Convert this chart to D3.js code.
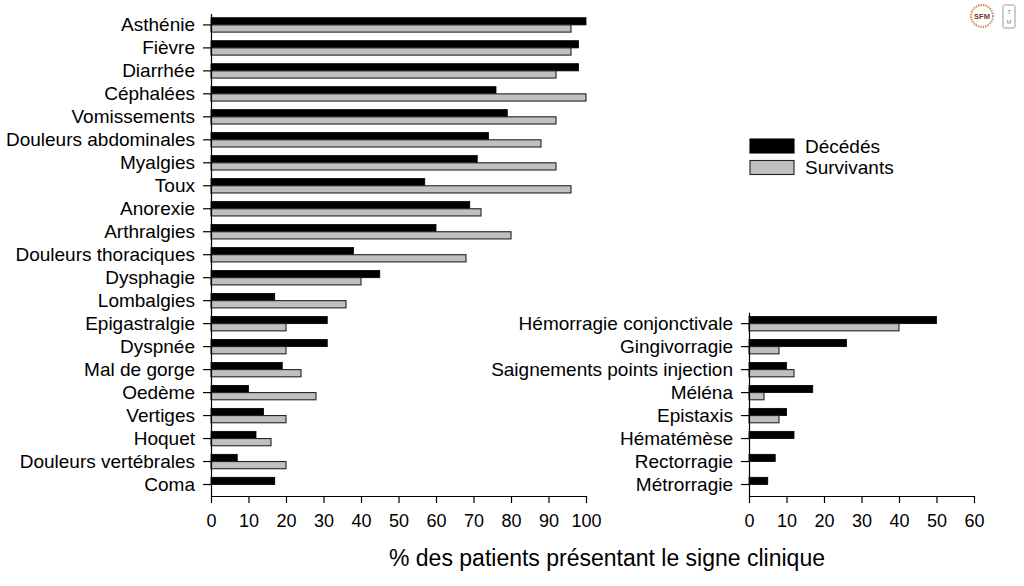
<!DOCTYPE html>
<html><head><meta charset="utf-8">
<script src="https://cdn.jsdelivr.net/npm/d3@7"></script>
<style>
html,body{margin:0;padding:0;background:#fff;}
svg{display:block;font-family:"Liberation Sans",Arial,sans-serif;}
</style></head>
<body>
<svg id="c" width="1024" height="586"></svg>
<script>
const leftCategories = ["Asthénie","Fièvre","Diarrhée","Céphalées","Vomissements","Douleurs abdominales","Myalgies","Toux","Anorexie","Arthralgies","Douleurs thoraciques","Dysphagie","Lombalgies","Epigastralgie","Dyspnée","Mal de gorge","Oedème","Vertiges","Hoquet","Douleurs vertébrales","Coma"];
const leftDeceased = [100,98,98,76,79,74,71,57,69,60,38,45,17,31,31,19,10,14,12,7,17];
const leftSurvivors = [96,96,92,100,92,88,92,96,72,80,68,40,36,20,20,24,28,20,16,20,0];

const rightCategories = ["Hémorragie conjonctivale","Gingivorragie","Saignements points injection","Méléna","Epistaxis","Hématémèse","Rectorragie","Métrorragie"];
const rightDeceased = [50,26,10,17,10,12,7,5];
const rightSurvivors = [40,8,12,4,8,0,0,0];

const leftTicks = [0,10,20,30,40,50,60,70,80,90,100];
const rightTicks = [0,10,20,30,40,50,60];
const seriesNames = ["Décédés","Survivants"];
const xTitle = "% des patients présentant le signe clinique";

const svg = d3.select("#c");
const colors = ["#000000","#c0c0c0"];
const baseY = 496;
const step = 22.98;
const barH = 7.2;
const FONT = '"Liberation Sans",Arial,sans-serif';

function panel(cats, dec, surv, ticks, x0, x1, tickLen, pad) {
  const g = svg.append("g");
  const x = d3.scaleLinear().domain([ticks[0], ticks[ticks.length-1]]).range([x0, x1]);
  const y = d3.scaleBand().domain(cats).range([baseY - cats.length*step, baseY]).padding(0);
  const c = d => y(d) + y.bandwidth()/2;

  const rows = cats.map((k,i)=>({k, d:dec[i], s:surv[i]}));
  g.selectAll(".bd").data(rows).join("rect")
    .attr("x", x(0)).attr("y", r => c(r.k) - barH)
    .attr("width", r => Math.max(0, x(r.d)-x(0))).attr("height", barH)
    .attr("fill", colors[0]).attr("stroke","#000").attr("stroke-width",0.8);
  g.selectAll(".bs").data(rows.filter(r=>r.s>0)).join("rect")
    .attr("x", x(0)).attr("y", r => c(r.k))
    .attr("width", r => x(r.s)-x(0)).attr("height", barH)
    .attr("fill", colors[1]).attr("stroke","#222").attr("stroke-width",1.1);

  const ya = g.append("g").attr("transform",`translate(${x0},0)`)
    .call(d3.axisLeft(y).tickSize(tickLen).tickPadding(pad).tickSizeOuter(0));
  ya.select(".domain").attr("stroke","#000").attr("stroke-width",1.2);
  ya.selectAll(".tick line").attr("stroke","#000").attr("stroke-width",1.2);
  ya.selectAll("text").attr("font-size",19).attr("fill","#000").style("font-family",FONT);

  const xa = g.append("g").attr("transform",`translate(0,${baseY})`)
    .call(d3.axisBottom(x).tickValues(ticks).tickSize(7).tickPadding(11).tickSizeOuter(0).tickFormat(d3.format("d")));
  xa.select(".domain").attr("stroke","#000").attr("stroke-width",1.2);
  xa.selectAll(".tick line").attr("stroke","#000").attr("stroke-width",1.2);
  xa.selectAll("text").attr("font-size",18).attr("fill","#000").style("font-family",FONT);
}

panel(leftCategories, leftDeceased, leftSurvivors, leftTicks, 211, 586, 8, 8);
panel(rightCategories, rightDeceased, rightSurvivors, rightTicks, 749, 974, 8, 8);

// legend
const lg = svg.append("g").attr("transform","translate(750,139)");
seriesNames.forEach((n,i)=>{
  lg.append("rect").attr("x",0).attr("y",i*21.5).attr("width",44).attr("height",14)
    .attr("fill",colors[i]).attr("stroke", i? "#222":"#000").attr("stroke-width",1.1);
  lg.append("text").attr("x",55).attr("y",i*21.5+13.5).attr("font-size",19).attr("fill","#000").text(n);
});

// axis title
svg.append("text").attr("x",607).attr("y",566).attr("text-anchor","middle")
  .attr("font-size",23).attr("fill","#000").text(xTitle);

// logos
const lo = svg.append("g");
lo.append("circle").attr("cx",982).attr("cy",16).attr("r",11)
  .attr("fill","#fff").attr("stroke","#d9875a").attr("stroke-width",2).attr("stroke-dasharray","1.5,1");
lo.append("text").attr("x",982).attr("y",18.5).attr("text-anchor","middle")
  .attr("font-size",7.5).attr("font-weight","bold").attr("fill","#6b3a2a").text("SFM");
lo.append("rect").attr("x",1003).attr("y",5).attr("width",12).attr("height",23).attr("rx",1.5)
  .attr("fill","#fff").attr("stroke","#999").attr("stroke-width",1);
lo.append("text").attr("x",1009).attr("y",14).attr("text-anchor","middle")
  .attr("font-size",6).attr("fill","#888").text("T");
lo.append("text").attr("x",1009).attr("y",24).attr("text-anchor","middle")
  .attr("font-size",6).attr("fill","#888").text("M");
</script>
</body></html>
